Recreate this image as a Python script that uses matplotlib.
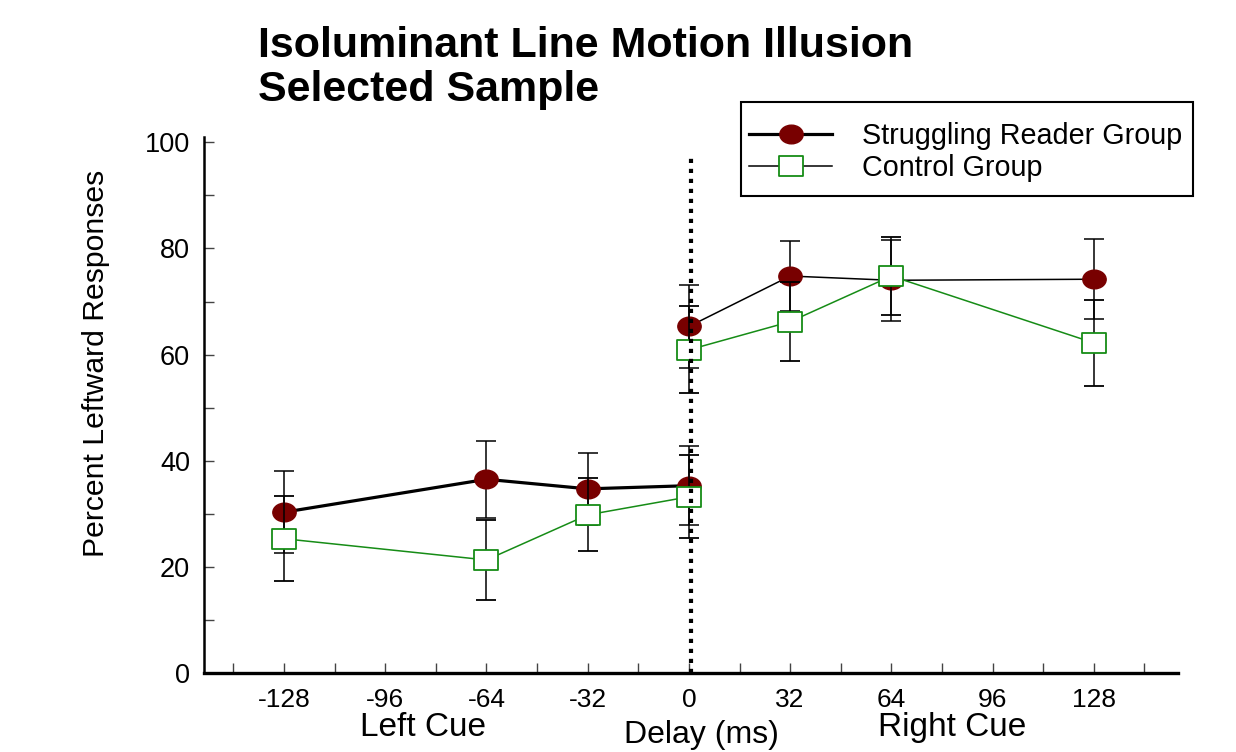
import matplotlib
matplotlib.use("Agg")
import matplotlib.pyplot as plt
from matplotlib.path import Path
from matplotlib.transforms import Affine2D
from matplotlib.lines import Line2D
from matplotlib.patches import Rectangle

# ---------------- data ----------------
delays_left = [-128, -64, -32, 0]
delays_right = [0, 32, 64, 128]

struggling_left = [30.3, 36.5, 34.7, 35.3]
struggling_left_err = [7.7, 7.2, 6.8, 7.4]
control_left = [25.3, 21.3, 29.8, 33.2]
control_left_err = [8.0, 7.6, 6.9, 7.8]

struggling_right = [65.3, 74.8, 74.0, 74.2]
struggling_right_err = [7.8, 6.6, 7.6, 7.5]
control_right = [60.9, 66.2, 74.8, 62.2]
control_right_err = [8.2, 7.5, 7.3, 8.1]

xtick_major = [-128, -96, -64, -32, 0, 32, 64, 96, 128]
xtick_minor = [-144, -112, -80, -48, -16, 16, 48, 80, 112, 144]
ytick_major = [0, 20, 40, 60, 80, 100]
ytick_minor = [10, 30, 50, 70, 90]

title_lines = ["Isoluminant Line Motion Illusion", "Selected Sample"]
series_labels = ["Struggling Reader Group", "Control Group"]

# ---------------- style ----------------
FONT = ["Liberation Sans", "Arial", "DejaVu Sans"]
plt.rcParams["font.family"] = FONT
RED = "#780000"
GREEN = "#168c16"

W, H = 1236, 752
fig = plt.figure(figsize=(W / 100, H / 100), dpi=100)
ax = fig.add_axes([204 / W, 79 / H, 974 / W, 536 / H])

ellipse = Path.unit_circle().transformed(Affine2D().scale(1.0, 0.8))
rect = Path([(-1, -0.83), (1, -0.83), (1, 0.83), (-1, 0.83), (-1, -0.83)],
            [Path.MOVETO, Path.LINETO, Path.LINETO, Path.LINETO, Path.CLOSEPOLY])

ms = 16.8
eb_kw = dict(ecolor="black", elinewidth=1.1, capsize=6.9, capthick=1.1)

# struggling group (left segment thick, right thin)
ax.errorbar(delays_left, struggling_left, yerr=struggling_left_err, color="black",
            lw=2.3, marker=ellipse, ms=ms, mfc=RED, mec=RED, zorder=3, **eb_kw)
ax.errorbar(delays_right, struggling_right, yerr=struggling_right_err, color="black",
            lw=1.1, marker=ellipse, ms=ms, mfc=RED, mec=RED, zorder=3, **eb_kw)
# control group
ax.errorbar(delays_left, control_left, yerr=control_left_err, color=GREEN,
            lw=1.1, marker=rect, ms=ms, mfc="white", mec=GREEN, mew=1.3, zorder=4, **eb_kw)
ax.errorbar(delays_right, control_right, yerr=control_right_err, color=GREEN,
            lw=1.1, marker=rect, ms=ms, mfc="white", mec=GREEN, mew=1.3, zorder=4, **eb_kw)

# dotted zero-delay line
ax.plot([0.6, 0.6], [0, 97.6], color="black", lw=3.0, linestyle=(0, (1, 1.4)),
        dash_capstyle="butt", zorder=6, clip_on=False)

ax.set_xlim(-153.3, 154.6)
ax.set_ylim(0, 101)
for s in ["top", "right"]:
    ax.spines[s].set_visible(False)
ax.spines["left"].set_linewidth(1.8)
ax.spines["bottom"].set_linewidth(2.4)

ax.set_xticks(xtick_major)
ax.set_xticklabels([str(v) for v in xtick_major])
ax.set_xticks(xtick_minor, minor=True)
ax.set_yticks(ytick_major)
ax.set_yticklabels([str(v) for v in ytick_major])
ax.set_yticks(ytick_minor, minor=True)
ax.tick_params(axis="both", which="both", direction="in", length=7, width=1, color="#444444")
ax.tick_params(axis="x", which="major", pad=11, labelsize=19)
ax.tick_params(axis="y", which="major", pad=10, labelsize=19.5)

ax.set_ylabel("Percent Leftward Responses", fontsize=21.7)
ax.yaxis.set_label_coords((110 - 204) / 974, (673 - 363) / 536)

# titles
fig.text(258 / W, 1 - 57 / H, title_lines[0], fontsize=31, fontweight="bold", va="baseline", ha="left")
fig.text(258 / W, 1 - 101 / H, title_lines[1], fontsize=31, fontweight="bold", va="baseline", ha="left")

# bottom labels
fig.text(423 / W, 1 - 736 / H, "Left Cue", fontsize=24, ha="center", va="baseline")
fig.text(952 / W, 1 - 736 / H, "Right Cue", fontsize=24, ha="center", va="baseline")
fig.text(701 / W, 1 - 743 / H, "Delay (ms)", fontsize=23, ha="center", va="baseline")

# legend
handles = [
    Line2D([], [], color="black", lw=2.3, marker=ellipse, ms=ms, mfc=RED, mec=RED),
    Line2D([], [], color="black", lw=1.1, marker=rect, ms=ms, mfc="white", mec=GREEN, mew=1.3),
]
fig.legend(handles, series_labels, loc="upper left",
           bbox_to_anchor=(749 / W, 1 - 122 / H), frameon=False, fontsize=20.7,
           borderpad=0, borderaxespad=0, handlelength=2.89, handletextpad=1.04,
           labelspacing=0.15)
fig.patches.append(Rectangle((741 / W, 1 - 196 / H), 452 / W, 94 / H, transform=fig.transFigure,
                             fill=False, ec="black", lw=1.5))

fig.savefig("out.png", dpi=100)
